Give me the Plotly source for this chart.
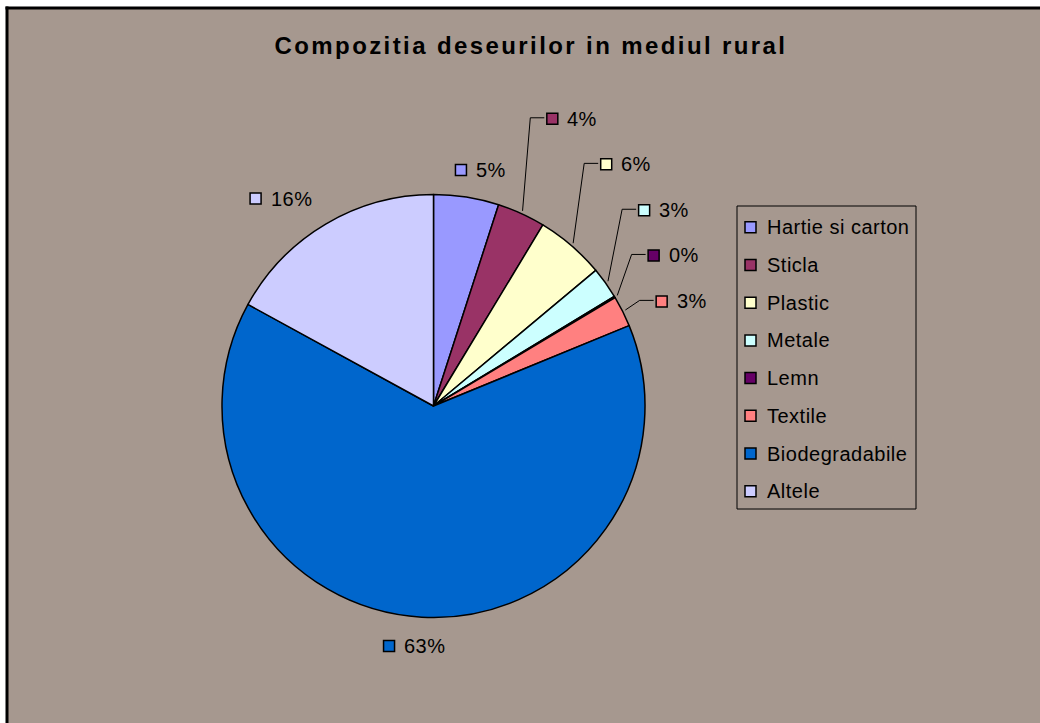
import math
import plotly.graph_objects as go

# ---------------- data ----------------
categories = ["Hartie si carton", "Sticla", "Plastic", "Metale", "Lemn",
              "Textile", "Biodegradabile", "Altele"]
values = [4.98, 3.67, 5.27, 2.40, 0.12, 2.36, 64.18, 17.03]
pct_labels = ["5%", "4%", "6%", "3%", "0%", "3%", "63%", "16%"]
colors = ["#9999FF", "#993366", "#FFFFCC", "#CCFFFF", "#660066",
          "#FF8080", "#0066CC", "#CCCCFF"]
title_text = "Compozitia deseurilor in mediul rural"

# ---------------- layout / style ----------------
W, H = 1040, 723
CX, CY, R = 433.5, 406.0, 211.5          # pie centre / radius in px
BG = "#a6988f"
FONT = "Liberation Sans, Arial, sans-serif"
# label square offset from the rim point at each slice's mid-angle (px)
LABEL_OFFSET = [(-5.5, -27), (31, -94.8), (35, -81.1), (38.6, -72.7),
                (38.9, -41.5), (39, -10), (-32.7, 28.8), (-70.1, -25.5)]
LEADER = [False, True, True, True, True, True, False, False]
LEG_BOX = (737, 206, 916, 509)
LEG_SQ_X, LEG_TXT_X, LEG_Y0, LEG_DY = 750.5, 765, 227.2, 37.73


def spaced(s, px):
    return "<span style='letter-spacing:%spx'>%s</span>" % (px, s)


fig = go.Figure()

# pie
fig.add_trace(go.Pie(
    labels=categories, values=values, sort=False, direction="clockwise",
    rotation=0, textinfo="none", showlegend=False,
    marker=dict(colors=colors, line=dict(color="black", width=1.5)),
    domain=dict(x=[(CX - R) / W, (CX + R) / W],
                y=[(H - CY - R) / H, (H - CY + R) / H]),
    hoverinfo="label+percent",
))

total = sum(values)
cum = 0.0
sq_x, sq_y = [], []
lead_x, lead_y = [], []
annotations = []
for i, v in enumerate(values):
    a = math.radians((cum + v / 2) / total * 360)
    cum += v
    rx, ry = CX + R * math.sin(a), CY - R * math.cos(a)
    sx, sy = rx + LABEL_OFFSET[i][0], ry + LABEL_OFFSET[i][1]
    sq_x.append(sx)
    sq_y.append(sy)
    if LEADER[i]:
        lead_x += [CX + (R + 3) * math.sin(a), sx - 22, sx - 8, None]
        lead_y += [CY - (R + 3) * math.cos(a), sy - 1, sy - 1, None]
    annotations.append(dict(
        x=sx + 13, y=sy, xref="x", yref="y", text=spaced(pct_labels[i], 0.5),
        showarrow=False, xanchor="left", yanchor="middle",
        font=dict(family=FONT, size=20, color="black")))

# leader lines
fig.add_trace(go.Scatter(x=lead_x, y=lead_y, mode="lines",
                         line=dict(color="black", width=1),
                         hoverinfo="skip", showlegend=False))
# label squares
fig.add_trace(go.Scatter(x=sq_x, y=sq_y, mode="markers",
                         marker=dict(symbol="square", size=11, color=colors,
                                     line=dict(color="black", width=1.5)),
                         hoverinfo="skip", showlegend=False))

# custom legend
leg_y = [LEG_Y0 + LEG_DY * i for i in range(len(categories))]
fig.add_trace(go.Scatter(x=[LEG_SQ_X] * len(categories), y=leg_y,
                         mode="markers",
                         marker=dict(symbol="square", size=11, color=colors,
                                     line=dict(color="black", width=1.5)),
                         hoverinfo="skip", showlegend=False))
for name, y in zip(categories, leg_y):
    annotations.append(dict(
        x=LEG_TXT_X, y=y, xref="x", yref="y", text=spaced(name, 0.5),
        showarrow=False, xanchor="left", yanchor="middle",
        font=dict(family=FONT, size=20, color="black")))

shapes = [
    # chart area background
    dict(type="rect", xref="x", yref="y", x0=7, y0=8, x1=W, y1=H,
         fillcolor=BG, line=dict(width=0), layer="below"),
    # frame (top and left edges visible)
    dict(type="line", xref="x", yref="y", x0=5.5, y0=8, x1=W, y1=8,
         line=dict(color="black", width=3), layer="below"),
    dict(type="line", xref="x", yref="y", x0=7, y0=6.5, x1=7, y1=H,
         line=dict(color="black", width=3), layer="below"),
    # legend frame
    dict(type="rect", xref="x", yref="y", x0=LEG_BOX[0], y0=LEG_BOX[1],
         x1=LEG_BOX[2], y1=LEG_BOX[3], line=dict(color="black", width=1),
         fillcolor="rgba(0,0,0,0)", layer="below"),
]

fig.update_layout(
    width=W, height=H, margin=dict(l=0, r=0, t=0, b=0),
    paper_bgcolor="white", plot_bgcolor="white",
    xaxis=dict(range=[0, W], visible=False, fixedrange=True),
    yaxis=dict(range=[H, 0], visible=False, fixedrange=True),
    title=dict(text="<b>" + spaced(title_text, 2.4) + "</b>", x=531 / W,
               xanchor="center", y=1 - 46 / H, yanchor="middle",
               font=dict(family=FONT, size=24, color="black")),
    annotations=annotations, shapes=shapes, showlegend=False,
)

fig.write_html("out.html")
